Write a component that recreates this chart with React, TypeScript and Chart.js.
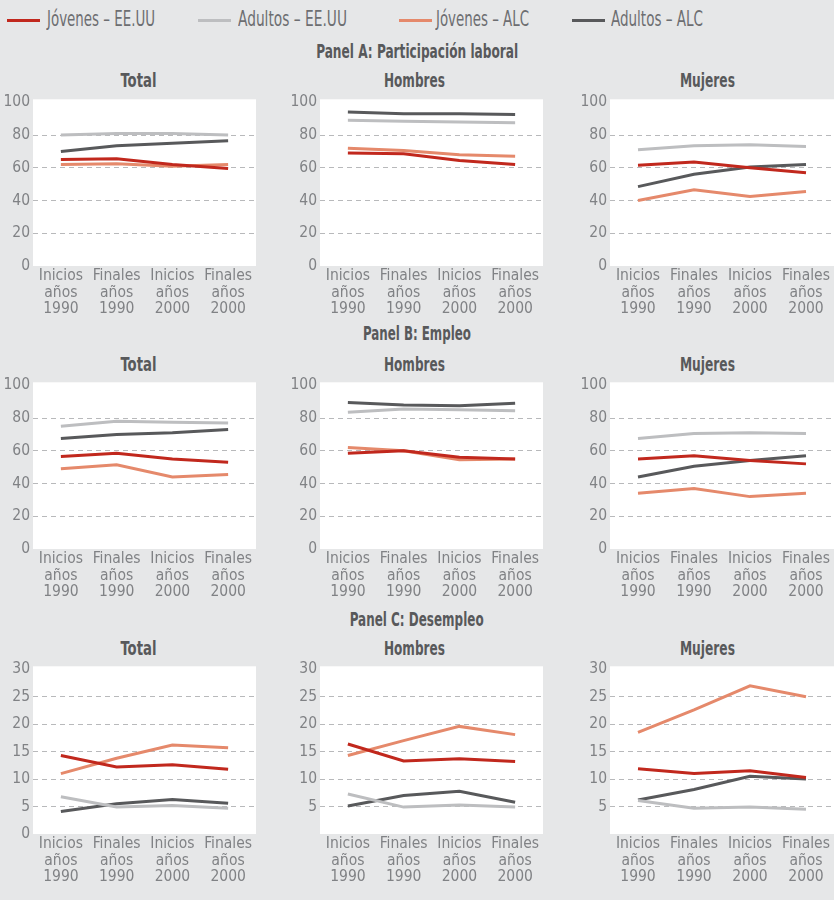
import React, { useEffect, useLayoutEffect, useRef } from 'react';
import { Chart, registerables } from 'chart.js';

Chart.register(...registerables);

// ---------- DATA ----------
const CATEGORIES = [
  ['Inicios', 'años', '1990'],
  ['Finales', 'años', '1990'],
  ['Inicios', 'años', '2000'],
  ['Finales', 'años', '2000'],
];
const SERIES_NAMES = ['Jóvenes – EE.UU', 'Adultos – EE.UU', 'Jóvenes – ALC', 'Adultos – ALC'];
const SERIES_COLORS = ['#c1281d', '#bdbec0', '#e5896b', '#58595b'];

const PANEL_TITLES = ['Panel A: Participación laboral', 'Panel B: Empleo', 'Panel C: Desempleo'];
const SUB_TITLES = ['Total', 'Hombres', 'Mujeres'];

// Panel A: Participación laboral (order: Jóvenes EE.UU, Adultos EE.UU, Jóvenes ALC, Adultos ALC)
const PART_TOTAL = [
  [65, 65.5, 62, 59.5],
  [80, 81, 81, 80],
  [62, 62.5, 61, 62],
  [70, 73.5, 75, 76.5],
];
const PART_HOMBRES = [
  [69, 68.5, 64.5, 62],
  [89, 88.5, 88, 87.5],
  [72, 70.5, 68, 67],
  [94, 93, 93, 92.5],
];
const PART_MUJERES = [
  [61.5, 63.5, 60, 57],
  [71, 73.5, 74, 73],
  [40, 46.5, 42.5, 45.5],
  [48.5, 56, 60.5, 62],
];
// Panel B: Empleo
const EMP_TOTAL = [
  [56.5, 58.5, 55, 53],
  [75, 78, 77.5, 77],
  [49, 51.5, 44, 45.5],
  [67.5, 70, 71, 73],
];
const EMP_HOMBRES = [
  [58.5, 60, 56, 55],
  [83.5, 85.5, 85, 84.5],
  [62, 60, 54.5, 55],
  [89.5, 88, 87.5, 89],
];
const EMP_MUJERES = [
  [55, 57, 54, 52],
  [67.5, 70.5, 71, 70.5],
  [34, 37, 32, 34],
  [44, 50.5, 54, 57],
];
// Panel C: Desempleo
const DES_TOTAL = [
  [14.3, 12.2, 12.6, 11.8],
  [6.8, 4.9, 5.2, 4.7],
  [11, 13.8, 16.2, 15.7],
  [4.1, 5.5, 6.3, 5.6],
];
const DES_HOMBRES = [
  [16.4, 13.3, 13.7, 13.2],
  [7.3, 4.9, 5.3, 4.9],
  [14.3, 17, 19.6, 18.1],
  [5.1, 7, 7.8, 5.8],
];
const DES_MUJERES = [
  [11.9, 11, 11.5, 10.3],
  [6.1, 4.7, 4.9, 4.5],
  [18.5, 22.6, 27, 25],
  [6.2, 8.1, 10.5, 10],
];

const Y_MAX_RATE = 100;
const Y_STEP_RATE = 20;
const Y_MAX_UNEMP = 30;
const Y_STEP_UNEMP = 5;

// ---------- STYLE ----------
const FONT = '"Liberation Sans Narrow", "DejaVu Sans Condensed", "Arial Narrow", sans-serif';
const BG = '#e6e7e8';
const TICK_COLOR = '#808285';
const TITLE_COLOR = '#58595b';
const GRID_COLOR = '#b8b9bb';

const whiteBg = {
  id: 'whiteBg',
  beforeDraw(chart: any) {
    const { ctx, chartArea: a } = chart;
    ctx.save();
    ctx.fillStyle = '#ffffff';
    ctx.fillRect(a.left, a.top - 3, a.right - a.left, a.bottom - a.top + 3);
    ctx.restore();
  },
};

type SubProps = {
  left: number;
  top: number;
  width: number;
  height: number;
  series: number[][];
  yMax: number;
  yStep: number;
  hideZero?: boolean;
};

function SubChart({ left, top, width, height, series, yMax, yStep, hideZero }: SubProps) {
  const ref = useRef<HTMLCanvasElement | null>(null);
  useEffect(() => {
    if (!ref.current) return;
    const chart = new Chart(ref.current, {
      type: 'line',
      data: {
        labels: CATEGORIES as any,
        datasets: series.map((d, i) => ({
          label: SERIES_NAMES[i],
          data: d,
          borderColor: SERIES_COLORS[i],
          backgroundColor: SERIES_COLORS[i],
          borderWidth: 3,
          pointRadius: 0,
          pointHoverRadius: 0,
          tension: 0,
          fill: false,
        })),
      },
      options: {
        animation: false,
        responsive: false,
        maintainAspectRatio: false,
        devicePixelRatio: 1,
        events: [],
        layout: { padding: { top: 9, left: 0, right: 0, bottom: 0 } },
        plugins: {
          legend: { display: false },
          tooltip: { enabled: false },
          title: { display: false },
        },
        scales: {
          x: {
            type: 'category',
            offset: true,
            grid: { display: false, drawTicks: false },
            border: { display: false },
            ticks: {
              color: TICK_COLOR,
              font: { family: FONT, size: 15.5, lineHeight: '16.5px' },
              padding: 2,
              maxRotation: 0,
              minRotation: 0,
              autoSkip: false,
            },
            afterFit: (s: any) => {
              s.height = 54;
            },
          },
          y: {
            min: 0,
            max: yMax,
            ticks: {
              stepSize: yStep,
              color: TICK_COLOR,
              font: { family: FONT, size: 15.5 },
              padding: 3,
              callback: (v: any) => (hideZero && Number(v) === 0 ? '' : String(v)),
            },
            grid: {
              color: (c: any) =>
                c.tick && (c.tick.value === 0 || c.tick.value === yMax) ? 'rgba(0,0,0,0)' : GRID_COLOR,
              drawTicks: false,
              lineWidth: 1,
            },
            border: { display: false, dash: [5, 4] },
            afterFit: (s: any) => {
              s.width = 33;
            },
          },
        },
      } as any,
      plugins: [whiteBg],
    });
    return () => chart.destroy();
  }, []);
  return (
    <canvas
      ref={ref}
      width={width}
      height={height}
      style={{ position: 'absolute', left, top, width, height }}
    />
  );
}

function FitText({
  text,
  left,
  top,
  width,
  size,
  bold,
  color,
  center,
}: {
  text: string;
  left: number;
  top: number;
  width: number;
  size: number;
  bold?: boolean;
  color: string;
  center?: boolean;
}) {
  const ref = useRef<HTMLSpanElement | null>(null);
  useLayoutEffect(() => {
    const el = ref.current;
    if (!el) return;
    el.style.transform = 'none';
    const w = el.getBoundingClientRect().width;
    const k = w > 0 ? width / w : 1;
    el.style.transform = `scaleX(${k})`;
  }, []);
  return (
    <div
      style={{
        position: 'absolute',
        left: center ? left - width / 2 : left,
        top,
        width,
        height: size * 1.3,
        display: 'flex',
        justifyContent: center ? 'center' : 'flex-start',
        alignItems: 'center',
        overflow: 'visible',
      }}
    >
      <span
        ref={ref}
        style={{
          display: 'inline-block',
          whiteSpace: 'nowrap',
          fontFamily: FONT,
          fontSize: size,
          fontWeight: bold ? 700 : 400,
          color,
          lineHeight: 1,
          transformOrigin: center ? 'center center' : 'left center',
        }}
      >
        {text}
      </span>
    </div>
  );
}

const LEGEND_LINE_X = [7, 198, 399, 572];
const LEGEND_TEXT_X = [47, 238, 436, 611];
const LEGEND_TEXT_W = [108, 109, 93, 92];

const COL_LEFT = [0, 287, 577];
const COL_WIDTH = [256, 256, 257];
const ROW_TOP = [90, 373, 657];
const ROW_HEIGHT = [230, 230, 231];
const PANEL_TITLE_Y = [52, 334, 620];
const PANEL_TITLE_W = [202, 108, 134];
const SUB_TITLE_Y = [80, 364, 648];
const SUB_TITLE_X = [138, 414, 707];
const SUB_TITLE_W = [36, 61, 55];

const PANELS = [
  { series: [PART_TOTAL, PART_HOMBRES, PART_MUJERES], yMax: Y_MAX_RATE, yStep: Y_STEP_RATE },
  { series: [EMP_TOTAL, EMP_HOMBRES, EMP_MUJERES], yMax: Y_MAX_RATE, yStep: Y_STEP_RATE },
  { series: [DES_TOTAL, DES_HOMBRES, DES_MUJERES], yMax: Y_MAX_UNEMP, yStep: Y_STEP_UNEMP },
];

export default function App() {
  useEffect(() => {
    document.body.style.margin = '0';
  }, []);
  return (
    <div
      style={{
        position: 'absolute',
        left: 0,
        top: 0,
        width: 834,
        height: 900,
        background: BG,
        overflow: 'hidden',
      }}
    >
      {SERIES_NAMES.map((name, i) => (
        <React.Fragment key={name}>
          <div
            style={{
              position: 'absolute',
              left: LEGEND_LINE_X[i],
              top: 19,
              width: 33,
              height: 3,
              background: SERIES_COLORS[i],
            }}
          />
          <FitText
            text={name}
            left={LEGEND_TEXT_X[i]}
            top={20 - 21 * 0.65}
            width={LEGEND_TEXT_W[i]}
            size={21}
            color="#6d6e71"
          />
        </React.Fragment>
      ))}
      {PANELS.map((p, r) => (
        <React.Fragment key={r}>
          <FitText
            text={PANEL_TITLES[r]}
            left={417}
            top={PANEL_TITLE_Y[r] - 19 * 0.65}
            width={PANEL_TITLE_W[r]}
            size={19}
            bold
            center
            color={TITLE_COLOR}
          />
          {p.series.map((s, c) => (
            <React.Fragment key={c}>
              <FitText
                text={SUB_TITLES[c]}
                left={SUB_TITLE_X[c]}
                top={SUB_TITLE_Y[r] - 20 * 0.65}
                width={SUB_TITLE_W[c]}
                size={20}
                bold
                center
                color={TITLE_COLOR}
              />
              <SubChart
                left={COL_LEFT[c]}
                top={ROW_TOP[r]}
                width={COL_WIDTH[c]}
                height={ROW_HEIGHT[r]}
                series={s}
                yMax={p.yMax}
                yStep={p.yStep}
                hideZero={r === 2 && c > 0}
              />
            </React.Fragment>
          ))}
        </React.Fragment>
      ))}
    </div>
  );
}
